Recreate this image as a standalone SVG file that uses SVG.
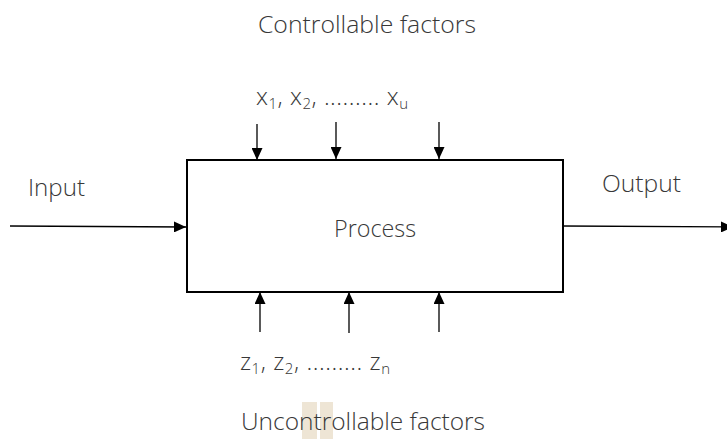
<svg xmlns="http://www.w3.org/2000/svg" width="727" height="439" viewBox="0 0 727 439">
<style>
text{font-family:"Open Sans","Noto Sans","DejaVu Sans",sans-serif;fill:#383838;font-weight:300}
.lbl{font-size:24px}
.sub{font-size:15px}
.ln{stroke:#000;stroke-width:1.3;fill:none}
</style>
<defs>
<marker id="ah" viewBox="0 0 12 11" refX="12" refY="5.5" markerWidth="12" markerHeight="11" markerUnits="userSpaceOnUse" orient="auto">
<path d="M0,0L12,5.5L0,11Z" fill="#000"/>
</marker>
</defs>
<rect x="0" y="0" width="727" height="439" fill="#fff"/>
<g id="watermark">
<rect x="302" y="402" width="15" height="37" fill="#EEE5D5"/>
<rect x="320" y="402" width="13" height="37" fill="#EEE5D5"/>
</g>
<g id="process">
<rect x="187" y="160" width="376" height="132" fill="#fff" stroke="#000" stroke-width="2"/>
<text class="lbl" x="334" y="237" textLength="82" lengthAdjust="spacingAndGlyphs">Process</text>
</g>
<g id="labels">
<text class="lbl" x="258" y="33" textLength="218" lengthAdjust="spacingAndGlyphs">Controllable factors</text>
<text class="lbl" x="28" y="196" textLength="57" lengthAdjust="spacingAndGlyphs">Input</text>
<text class="lbl" x="602" y="192" textLength="79" lengthAdjust="spacingAndGlyphs">Output</text>
<text class="lbl" x="256" y="105" textLength="152" lengthAdjust="spacing">x<tspan class="sub" dy="4">1</tspan><tspan dy="-4">, x</tspan><tspan class="sub" dy="4">2</tspan><tspan dy="-4">, ......... x</tspan><tspan class="sub" dy="4">u</tspan></text>
<text class="lbl" x="240" y="370" textLength="150" lengthAdjust="spacing">z<tspan class="sub" dy="4">1</tspan><tspan dy="-4">, z</tspan><tspan class="sub" dy="4">2</tspan><tspan dy="-4">, ......... z</tspan><tspan class="sub" dy="4">n</tspan></text>
<text class="lbl" x="241" y="430" textLength="244" lengthAdjust="spacingAndGlyphs">Uncontrollable factors</text>
</g>
<g id="connectors">
<line class="ln" x1="10" y1="226" x2="186" y2="227" marker-end="url(#ah)"/>
<line class="ln" x1="563" y1="226" x2="733" y2="227" marker-end="url(#ah)"/>
<line class="ln" x1="257" y1="124" x2="257" y2="160" marker-end="url(#ah)"/>
<line class="ln" x1="336" y1="122" x2="336" y2="159" marker-end="url(#ah)"/>
<line class="ln" x1="439" y1="122" x2="439" y2="159" marker-end="url(#ah)"/>
<line class="ln" x1="260" y1="332" x2="260" y2="292" marker-end="url(#ah)"/>
<line class="ln" x1="349" y1="333" x2="349" y2="292" marker-end="url(#ah)"/>
<line class="ln" x1="439" y1="332" x2="439" y2="292" marker-end="url(#ah)"/>
</g>
</svg>
